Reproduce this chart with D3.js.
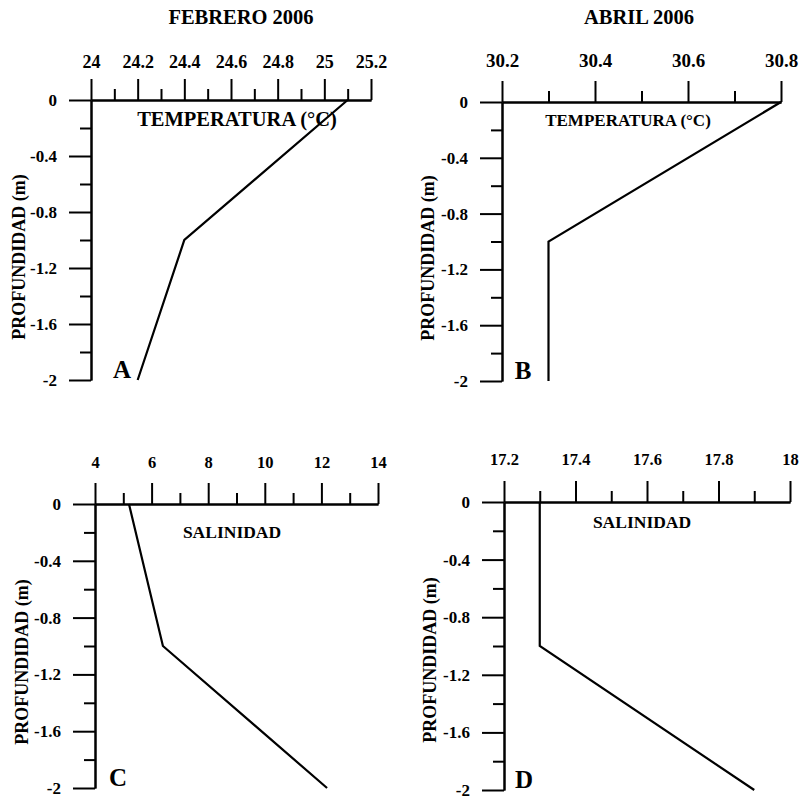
<!DOCTYPE html>
<html>
<head>
<meta charset="utf-8">
<script src="https://cdn.jsdelivr.net/npm/d3@7"></script>
<style>
  body { margin: 0; background: #ffffff; }
  svg { display: block; }
  text { font-family: "Liberation Serif", "Times New Roman", serif; font-weight: bold; fill: #000; }
</style>
</head>
<body>
<div id="chart"></div>
<script>
// depth of each measurement (m)
const depths = [0, -1, -2];

// A: temperatura febrero, B: temperatura abril, C: salinidad febrero, D: salinidad abril
const tempFebrero = [25.1, 24.4, 24.2];
const tempAbril = [30.8, 30.3, 30.3];
const salFebrero = [5.2, 6.4, 12.2];
const salAbril = [17.3, 17.3, 17.9];

// tick labels
const depthTicks = [0, -0.4, -0.8, -1.2, -1.6, -2];
const depthMinor = [-0.2, -0.6, -1.0, -1.4, -1.8];
const tempFebTicks = [24, 24.2, 24.4, 24.6, 24.8, 25, 25.2];
const tempFebMinor = [24.1, 24.3, 24.5, 24.7, 24.9, 25.1];
const tempAbrTicks = [30.2, 30.4, 30.6, 30.8];
const tempAbrMinor = [30.3, 30.5, 30.7];
const salFebTicks = [4, 6, 8, 10, 12, 14];
const salFebMinor = [5, 7, 9, 11, 13];
const salAbrTicks = [17.2, 17.4, 17.6, 17.8, 18];
const salAbrMinor = [17.3, 17.5, 17.7, 17.9];

const titles = ['FEBRERO 2006', 'ABRIL 2006'];
const yLabel = 'PROFUNDIDAD (m)';

const svg = d3.select('#chart')
    .append('svg')
    .attr('width', 799)
    .attr('height', 798);

svg.append('text').attr('x', 241).attr('y', 24).attr('text-anchor', 'middle')
    .style('font-size', '20.5px').text(titles[0]);
svg.append('text').attr('x', 639).attr('y', 24).attr('text-anchor', 'middle')
    .style('font-size', '20.5px').text(titles[1]);

drawProfile({ letter: 'A', values: tempFebrero, ticks: tempFebTicks, minor: tempFebMinor,
    label: 'TEMPERATURA (°C)', left: 91, right: 371, top: 100, bottom: 380,
    tickFont: 18, labelFont: 20.5, labelX: 237, labelY: 126, labelDy: 32,
    letterX: 122, letterY: 378, yLabelX: 25, yLabelY: 257 });

drawProfile({ letter: 'B', values: tempAbril, ticks: tempAbrTicks, minor: tempAbrMinor,
    label: 'TEMPERATURA (°C)', left: 502, right: 781, top: 102, bottom: 381,
    tickFont: 19, labelFont: 17, labelX: 628, labelY: 126, labelDy: 35,
    letterX: 523, letterY: 379, yLabelX: 434, yLabelY: 258 });

drawProfile({ letter: 'C', values: salFebrero, ticks: salFebTicks, minor: salFebMinor,
    label: 'SALINIDAD', left: 95, right: 378, top: 504, bottom: 788,
    tickFont: 16.5, labelFont: 17.5, labelX: 232, labelY: 538, labelDy: 36,
    letterX: 118, letterY: 786, yLabelX: 28, yLabelY: 662 });

drawProfile({ letter: 'D', values: salAbril, ticks: salAbrTicks, minor: salAbrMinor,
    label: 'SALINIDAD', left: 504, right: 790, top: 502, bottom: 790,
    tickFont: 16.5, labelFont: 17.5, labelX: 642, labelY: 528, labelDy: 37,
    letterX: 524, letterY: 788, yLabelX: 436, yLabelY: 660 });

function drawProfile(o) {
    const x = d3.scaleLinear()
        .domain([o.ticks[0], o.ticks[o.ticks.length - 1]])
        .range([o.left, o.right]);
    const y = d3.scaleLinear()
        .domain([0, -2])
        .range([o.top, o.bottom]);

    const g = svg.append('g');

    // top axis, minor then major ticks
    g.append('g')
        .attr('transform', `translate(0,${o.top})`)
        .call(d3.axisTop(x).tickValues(o.minor).tickSize(11).tickSizeOuter(0).tickFormat(''))
        .call(styleAxis);
    const xa = g.append('g')
        .attr('transform', `translate(0,${o.top})`)
        .call(d3.axisTop(x).tickValues(o.ticks).tickSize(21).tickSizeOuter(0).tickFormat(d => String(d)))
        .call(styleAxis);
    xa.selectAll('.tick text')
        .attr('y', -o.labelDy)
        .attr('dy', 0)
        .style('font-size', o.tickFont + 'px');

    // left axis
    g.append('g')
        .attr('transform', `translate(${o.left},0)`)
        .call(d3.axisLeft(y).tickValues(depthMinor).tickSize(11).tickSizeOuter(0).tickFormat(''))
        .call(styleAxis);
    const ya = g.append('g')
        .attr('transform', `translate(${o.left},0)`)
        .call(d3.axisLeft(y).tickValues(depthTicks).tickSize(22).tickSizeOuter(0).tickFormat(d => String(d)))
        .call(styleAxis);
    ya.selectAll('.tick text')
        .attr('x', -34)
        .style('font-size', '17px');

    // profile line
    const line = d3.line()
        .x(d => x(d[0]))
        .y(d => y(d[1]));
    g.append('path')
        .datum(o.values.map((v, i) => [v, depths[i]]))
        .attr('d', line)
        .style('fill', 'none')
        .style('stroke', '#000')
        .style('stroke-width', 2.2);

    g.append('text')
        .attr('x', o.labelX).attr('y', o.labelY)
        .attr('text-anchor', 'middle')
        .style('font-size', o.labelFont + 'px')
        .text(o.label);

    g.append('text')
        .attr('x', o.letterX).attr('y', o.letterY)
        .attr('text-anchor', 'middle')
        .style('font-size', '25px')
        .text(o.letter);

    g.append('text')
        .attr('transform', `translate(${o.yLabelX},${o.yLabelY}) rotate(-90)`)
        .attr('text-anchor', 'middle')
        .style('font-size', '18px')
        .text(yLabel);
}

function styleAxis(sel) {
    sel.selectAll('path.domain').style('stroke', '#000').style('stroke-width', 2);
    sel.selectAll('.tick line').style('stroke', '#000').style('stroke-width', 2);
    sel.selectAll('.tick text')
        .style('font-family', '"Liberation Serif", "Times New Roman", serif')
        .style('font-weight', 'bold')
        .style('fill', '#000');
}
</script>
</body>
</html>
